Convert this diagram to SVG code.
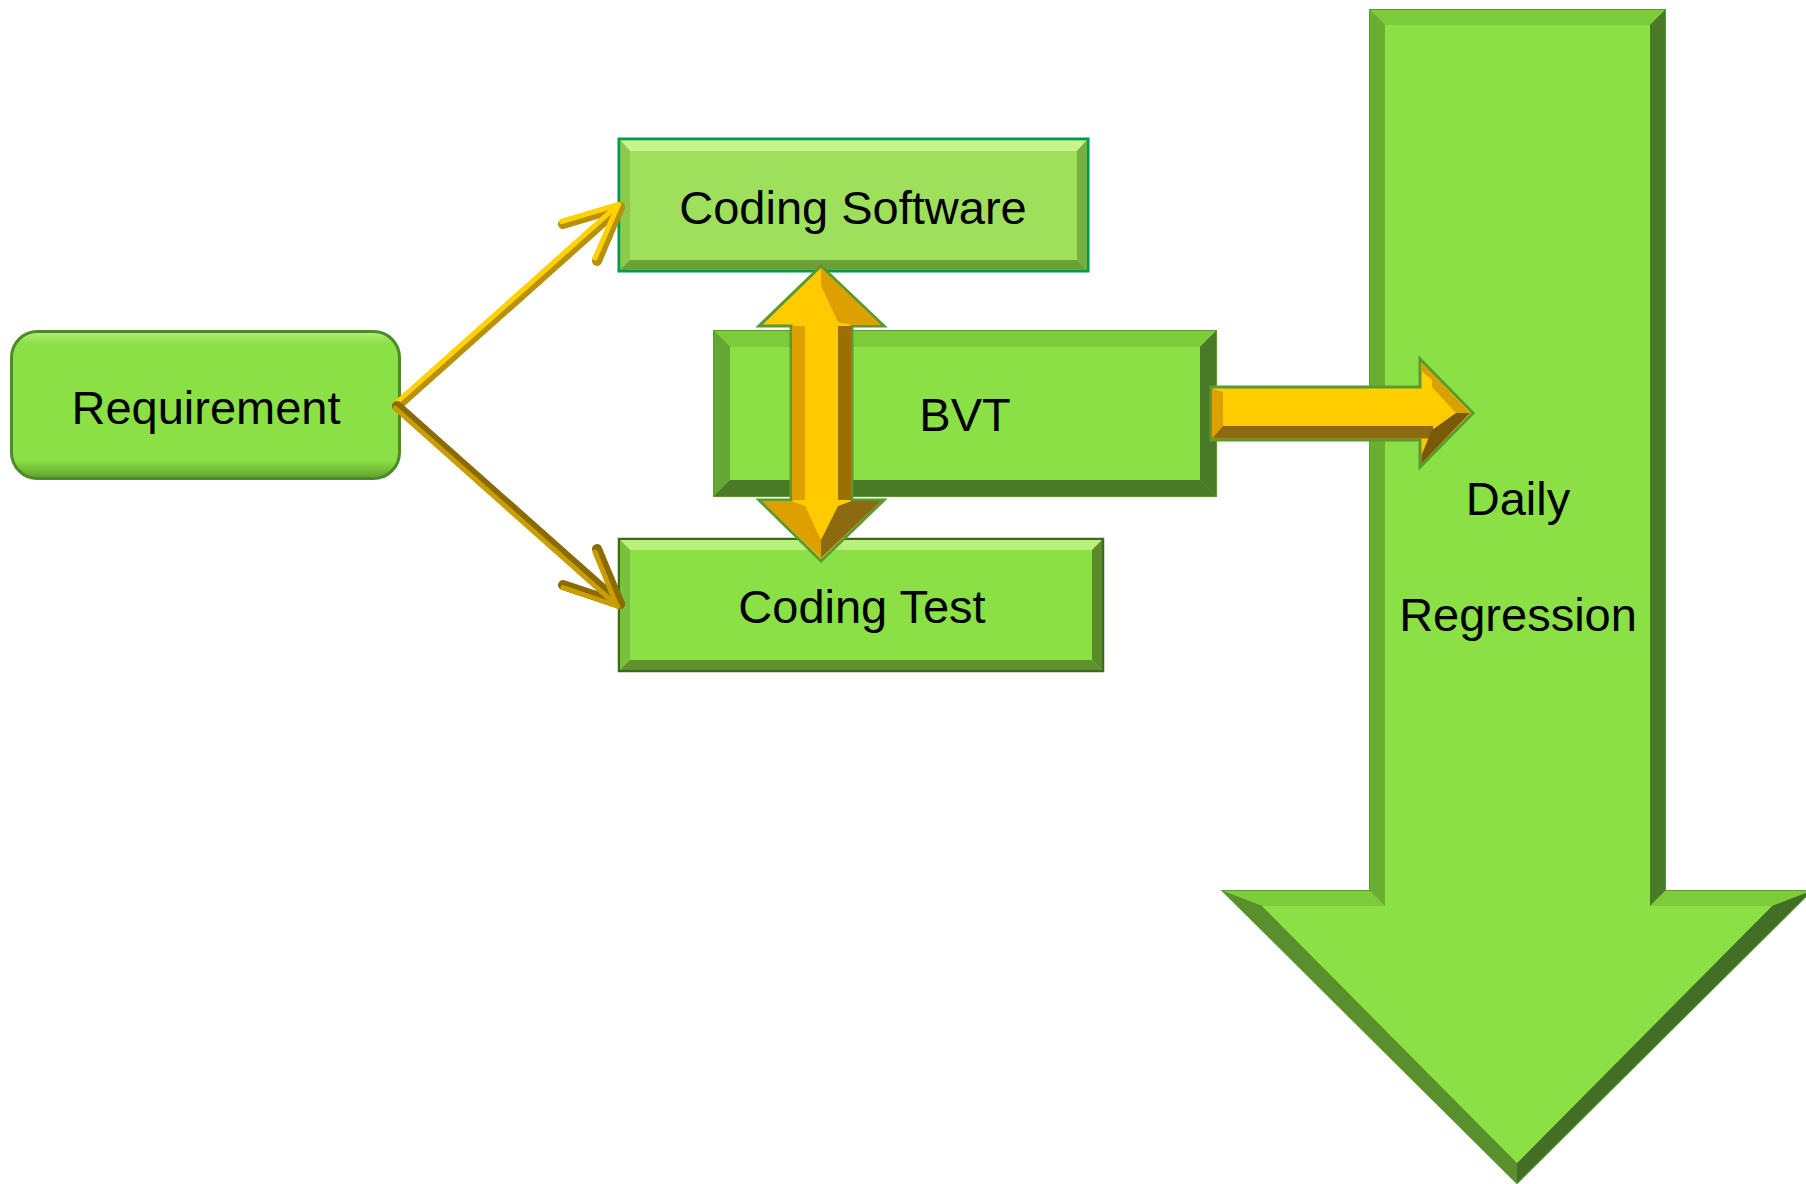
<svg xmlns="http://www.w3.org/2000/svg" width="1806" height="1184" viewBox="0 0 1806 1184">
<defs>
<style>
.lbl{font-family:"Liberation Sans",Arial,sans-serif;font-size:47px;fill:#000;text-anchor:middle}
.fill{fill:#8AE045}
.ol{stroke:#5A9A30;stroke-width:2;stroke-linejoin:miter}
</style>
<linearGradient id="reqG" x1="0" y1="0" x2="0" y2="1">
<stop offset="0" stop-color="#B2F37A"/>
<stop offset="0.08" stop-color="#8AE045"/>
<stop offset="0.88" stop-color="#8AE045"/>
<stop offset="1" stop-color="#5E9E2E"/>
</linearGradient>
<linearGradient id="goldH" x1="0" y1="0" x2="0" y2="1">
<stop offset="0" stop-color="#FFD400"/>
<stop offset="1" stop-color="#FFC400"/>
</linearGradient>
</defs>

<!-- Daily Regression big arrow -->
<g id="daily-regression">
<polygon points="1370,10 1665,10 1665,891 1811,891 1517,1183 1223,891 1370,891" fill="#6AAF30" class="ol"/>
<polygon points="1370,10 1665,10 1650,25 1385,25" fill="#7CCC3B"/>
<polygon points="1370,10 1385,25 1385,906 1370,891" fill="#6AAF30"/>
<polygon points="1665,10 1650,25 1650,906 1665,891" fill="#4B7A26"/>
<polygon points="1223,891 1370,891 1385,906 1262,906" fill="#7CCC3B"/>
<polygon points="1665,891 1811,891 1772,906 1650,906" fill="#7CCC3B"/>
<polygon points="1223,891 1262,906 1517,1163 1517,1183" fill="#5A8F2E"/>
<polygon points="1811,891 1772,906 1517,1163 1517,1183" fill="#436E25"/>
<polygon points="1385,25 1650,25 1650,906 1772,906 1517,1163 1262,906 1385,906" class="fill"/>
<text class="lbl" x="1518" y="515">Daily</text>
<text class="lbl" x="1518" y="631">Regression</text>
</g>

<!-- BVT -->
<g id="bvt">
<rect x="714" y="331" width="502" height="165" fill="#5E9E2E" stroke="#5A9A30" stroke-width="2"/>
<polygon points="714,331 1216,331 1200,347 730,347" fill="#7CCC3B"/>
<polygon points="714,331 730,347 730,480 714,496" fill="#64A832"/>
<polygon points="1216,331 1216,496 1200,480 1200,347" fill="#4B7A26"/>
<polygon points="714,496 1216,496 1200,480 730,480" fill="#4B7A26"/>
<rect x="730" y="347" width="470" height="133" class="fill"/>
<text class="lbl" x="965" y="431">BVT</text>
</g>

<!-- Coding Software -->
<g id="coding-software">
<rect x="619" y="139" width="469" height="132" fill="#9EDF5C" stroke="#009B4E" stroke-width="3"/>
<polygon points="620.5,140.5 1086.5,140.5 1077,151 630,151" fill="#C6F58C"/>
<polygon points="620.5,140.5 630,151 630,260 620.5,269.5" fill="#8CCB4A"/>
<polygon points="1086.5,140.5 1086.5,269.5 1077,260 1077,151" fill="#7AAE3E"/>
<polygon points="620.5,269.5 1086.5,269.5 1077,260 630,260" fill="#6E9E38"/>
<rect x="630" y="151" width="447" height="109" fill="#9EDF5C"/>
<text class="lbl" x="853" y="224">Coding Software</text>
</g>

<!-- Coding Test -->
<g id="coding-test">
<rect x="619" y="539" width="484" height="132" fill="#8AE045" stroke="#3C6A1E" stroke-width="2.5"/>
<polygon points="620,540 1102,540 1092,550 630,550" fill="#B8F07A"/>
<polygon points="620,540 630,550 630,660 620,670" fill="#7AC040"/>
<polygon points="1102,540 1102,670 1092,660 1092,550" fill="#5A8A2A"/>
<polygon points="620,670 1102,670 1092,660 630,660" fill="#5E9030"/>
<rect x="630" y="550" width="462" height="110" class="fill"/>
<text class="lbl" x="862" y="623">Coding Test</text>
</g>

<!-- Requirement -->
<g id="requirement">
<rect x="11.5" y="331.5" width="388" height="147" rx="26" ry="26" fill="url(#reqG)" stroke="#4E8A2A" stroke-width="3"/>
<text class="lbl" x="206" y="424">Requirement</text>
</g>

<!-- Connectors -->
<g id="connectors" fill="none" stroke-linecap="round" stroke-linejoin="round">
<!-- Requirement -> Coding Software -->
<g id="req-to-cs">
<polyline points="397,406 620,207" stroke="#B8900A" stroke-width="10"/>
<polyline points="563,224 620,207 597,261" stroke="#B8900A" stroke-width="10"/>
<polyline points="395.5,403.5 618.5,204.5" stroke="#FFD200" stroke-width="5"/>
<polyline points="561.5,221.5 618.5,204.5 595,258" stroke="#FFD200" stroke-width="5"/>
</g>
<!-- Requirement -> Coding Test -->
<g id="req-to-ct">
<polyline points="397,406 620,604" stroke="#8B6A00" stroke-width="10"/>
<polyline points="563,585 620,604 597,549" stroke="#8B6A00" stroke-width="10"/>
<polyline points="395.5,408.5 618,606.5" stroke="#C89E00" stroke-width="5"/>
<polyline points="563,587.5 617,606 595,552" stroke="#C89E00" stroke-width="5"/>
</g>
<!-- Coding Software <-> Coding Test (double arrow) -->
<g id="cs-ct-double">
<polygon points="821,266 884,326 852,326 852,500 884,500 821,561 759,500 791,500 791,326 759,326" fill="#FFCA00" stroke="#5A9A30" stroke-width="3" stroke-linejoin="miter"/>
<polygon points="792,326 805,326 805,500 792,500" fill="#DDA000" stroke="none"/>
<polygon points="838,326 851,326 851,500 838,500" fill="#9A7000" stroke="none"/>
<polygon points="821,268 881,325 852,325 838,322 821,286" fill="#DDA000" stroke="none"/>
<polygon points="762,501 791,501 805,506 821,540 821,558" fill="#DDA000" stroke="none"/>
<polygon points="881,501 852,501 838,506 821,540 821,558" fill="#8B6A10" stroke="none"/>
</g>
<!-- BVT -> Daily Regression -->
<g id="bvt-to-daily">
<polygon points="1211,387 1420,387 1420,359 1473,413 1420,467 1420,440 1211,440" fill="url(#goldH)" stroke="#5A9A30" stroke-width="3" stroke-linejoin="miter"/>
<polygon points="1212,388.5 1223,392 1223,426 1212,438.5" fill="#DDA000" stroke="none"/>
<polygon points="1212,438.5 1223,426 1433,426 1433,438.5" fill="#8B6A10" stroke="none"/>
<polygon points="1421.5,362.5 1470,413 1456,413 1432,387 1432,380 1421.5,371" fill="#D9A000" stroke="none"/>
<polygon points="1470,413 1421.5,463.5 1421.5,455 1432,430 1456,413" fill="#7A5A08" stroke="none"/>
</g>
</g>
</svg>
